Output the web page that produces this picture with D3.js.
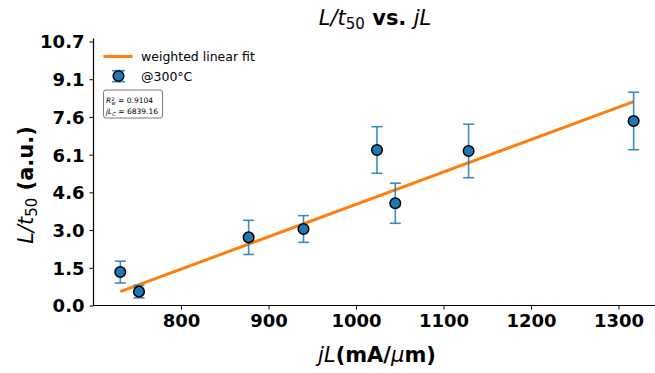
<!DOCTYPE html>
<html>
<head>
<meta charset="utf-8">
<script src="https://cdn.jsdelivr.net/npm/d3@7"></script>
<style>
  body { margin: 0; background: #fff; }
  svg { display: block; font-family: "DejaVu Sans", sans-serif; }
</style>
</head>
<body>
<svg id="chart"></svg>
<script>
// data
var jL = [730.6, 752, 877.3, 940, 1024, 1044.9, 1128.7, 1317.3];
var ratio = [1.35, 0.56, 2.75, 3.09, 6.28, 4.13, 6.24, 7.45];
var ratioErr = [0.44, 0.25, 0.69, 0.54, 0.94, 0.81, 1.08, 1.16];
var fitSlope = 0.013073,
  fitIntercept = -8.99;
var xTicks = [800, 900, 1000, 1100, 1200, 1300];
var yTickLabels = ["0.0", "1.5", "3.0", "4.6", "6.1", "7.6", "9.1", "10.7"];
var yMax = 10.66;

var width = 655,
  height = 373;

var svg = d3.select("#chart")
  .attr("width", width)
  .attr("height", height);

var x = d3.scaleLinear()
  .domain([700, 1345])
  .range([93.5, 93.5 + 645 * 0.875]);

var y = d3.scaleLinear()
  .domain([0, yMax])
  .range([305.5, 41.5]);

var blue = "#1f77b4",
  orange = "#ff7f0e";

// axes
var xAxis = svg.append("g")
  .attr("transform", "translate(0," + y(0) + ")")
  .call(d3.axisBottom(x).tickValues(xTicks).tickSize(4).tickPadding(5).tickSizeOuter(0)
    .tickFormat(d3.format("d")));
xAxis.select(".domain").attr("d", "M" + x(700) + ",0H" + width);

var yTickValues = yTickLabels.map(function (d, i) {
  return yMax * i / 7;
});
var yAxis = svg.append("g")
  .attr("transform", "translate(" + x(700) + ",0)")
  .call(d3.axisLeft(y).tickValues(yTickValues).tickSize(4).tickPadding(5).tickSizeOuter(0)
    .tickFormat(function (d, i) {
      return yTickLabels[i];
    }));
yAxis.select(".domain").attr("d", "M0," + y(0) + "V" + y(10.78));

svg.selectAll(".domain").attr("stroke", "#000").attr("stroke-width", 1.2);
svg.selectAll(".tick line").attr("stroke", "#000").attr("stroke-width", 1);
svg.selectAll(".tick text")
  .attr("fill", "#000")
  .style("font-family", "DejaVu Sans")
  .style("font-size", "18px")
  .style("font-weight", "bold");
yAxis.selectAll(".tick text").attr("dy", "0.36em");

// fit line
var fitX = d3.extent(jL);
svg.append("line")
  .attr("x1", x(fitX[0]))
  .attr("y1", y(fitSlope * fitX[0] + fitIntercept))
  .attr("x2", x(fitX[1]))
  .attr("y2", y(fitSlope * fitX[1] + fitIntercept))
  .attr("stroke", orange)
  .attr("stroke-width", 3);

// error bars
var pts = jL.map(function (d, i) {
  return {x: d, y: ratio[i], e: ratioErr[i]};
});
var eb = svg.append("g")
  .attr("stroke", blue)
  .attr("stroke-opacity", 0.85)
  .attr("stroke-width", 1.6);
eb.selectAll("line.v").data(pts).enter().append("line")
  .attr("x1", function (d) { return x(d.x); })
  .attr("x2", function (d) { return x(d.x); })
  .attr("y1", function (d) { return y(d.y - d.e); })
  .attr("y2", function (d) { return y(d.y + d.e); });
[-1, 1].forEach(function (s) {
  eb.selectAll(null).data(pts).enter().append("line")
    .attr("x1", function (d) { return x(d.x) - 5.5; })
    .attr("x2", function (d) { return x(d.x) + 5.5; })
    .attr("y1", function (d) { return y(d.y + s * d.e); })
    .attr("y2", function (d) { return y(d.y + s * d.e); });
});

svg.append("g").selectAll("circle").data(pts).enter().append("circle")
  .attr("cx", function (d) { return x(d.x); })
  .attr("cy", function (d) { return y(d.y); })
  .attr("r", 5.3)
  .attr("fill", blue)
  .attr("stroke", "#000")
  .attr("stroke-width", 1.5);

// legend
var leg = svg.append("g");
leg.append("line")
  .attr("x1", 103.5).attr("x2", 132.5)
  .attr("y1", 56.5).attr("y2", 56.5)
  .attr("stroke", orange).attr("stroke-width", 3);
leg.append("text")
  .attr("x", 141).attr("y", 61)
  .style("font-size", "12.5px")
  .text("weighted linear fit");
leg.append("line")
  .attr("x1", 118.5).attr("x2", 118.5)
  .attr("y1", 70.7).attr("y2", 81.7)
  .attr("stroke", blue).attr("stroke-opacity", 0.85).attr("stroke-width", 1.6);
[70.7, 81.7].forEach(function (cy) {
  leg.append("line")
    .attr("x1", 112).attr("x2", 125)
    .attr("y1", cy).attr("y2", cy)
    .attr("stroke", blue).attr("stroke-opacity", 0.85).attr("stroke-width", 1.6);
});
leg.append("circle")
  .attr("cx", 118.5).attr("cy", 76)
  .attr("r", 5.3)
  .attr("fill", blue).attr("stroke", "#000").attr("stroke-width", 1.5);
leg.append("text")
  .attr("x", 141).attr("y", 80.5)
  .style("font-size", "12.5px")
  .text("@300°C");

// stats box
leg.append("rect")
  .attr("x", 103.5).attr("y", 90)
  .attr("width", 59).attr("height", 28)
  .attr("rx", 2.5)
  .attr("fill", "#fff")
  .attr("stroke", "#555")
  .attr("stroke-width", 0.8);
var s1 = leg.append("text").attr("x", 106).attr("y", 103).style("font-size", "7.5px");
s1.append("tspan").style("font-style", "italic").text("R");
s1.append("tspan").attr("dy", -2.5).style("font-size", "5.3px").text("2");
s1.append("tspan").attr("dx", -3.2).attr("dy", 4.5).style("font-size", "5.3px").style("font-style", "italic").text("w");
s1.append("tspan").attr("dy", -2).text(" = 0.9104");
var s2 = leg.append("text").attr("x", 106).attr("y", 114).style("font-size", "7.5px");
s2.append("tspan").style("font-style", "italic").text("jL");
s2.append("tspan").attr("dy", 2).style("font-size", "5.3px").style("font-style", "italic").text("C");
s2.append("tspan").attr("dy", -2).text(" = 6839.16");

// title
var title = svg.append("text")
  .attr("x", 375).attr("y", 25)
  .attr("text-anchor", "middle")
  .style("font-size", "21px");
title.append("tspan").style("font-style", "italic").text("L/t");
title.append("tspan").attr("dy", 4).style("font-size", "15px").text("50");
title.append("tspan").attr("dy", -4).style("font-weight", "bold").text(" vs. ");
title.append("tspan").style("font-style", "italic").text("jL");

// x label
var xl = svg.append("text")
  .attr("x", 377).attr("y", 362)
  .attr("text-anchor", "middle")
  .style("font-size", "21px");
xl.append("tspan").style("font-style", "italic").text("jL");
xl.append("tspan").style("font-weight", "bold").text("(mA/");
xl.append("tspan").style("font-style", "italic").text("\u03bc");
xl.append("tspan").style("font-weight", "bold").text("m)");

// y label
var yl = svg.append("text")
  .attr("transform", "translate(33,185) rotate(-90)")
  .attr("text-anchor", "middle")
  .style("font-size", "21px");
yl.append("tspan").style("font-style", "italic").text("L/t");
yl.append("tspan").attr("dy", 4).style("font-size", "15px").text("50");
yl.append("tspan").attr("dy", -4).style("font-weight", "bold").text(" (a.u.)");
</script>
</body>
</html>
